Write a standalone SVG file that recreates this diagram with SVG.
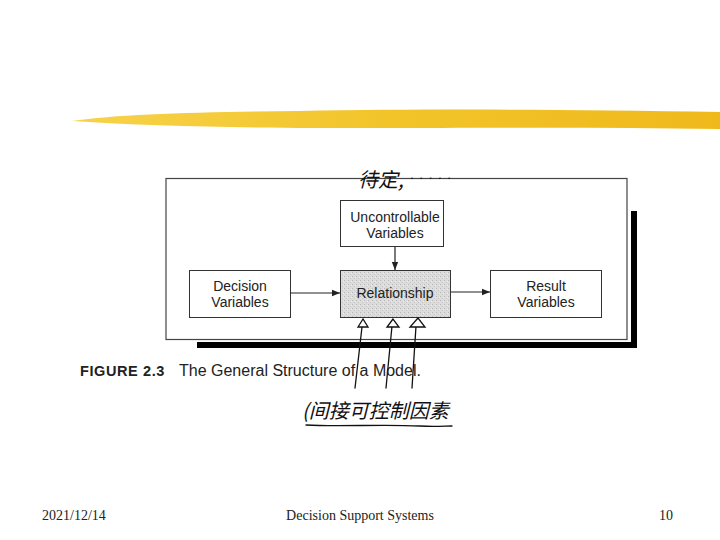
<svg xmlns="http://www.w3.org/2000/svg" width="720" height="540" viewBox="0 0 720 540">
<defs>
<linearGradient id="brush" x1="0" y1="0" x2="1" y2="0">
<stop offset="0" stop-color="#f7d24a"/>
<stop offset="0.5" stop-color="#f2c42a"/>
<stop offset="1" stop-color="#efb91c"/>
</linearGradient>
<pattern id="speckle" width="4" height="4" patternUnits="userSpaceOnUse">
<rect width="4" height="4" fill="#dcdcdc"/>
<rect x="0" y="0" width="1" height="1" fill="#b8b8b8"/>
<rect x="2" y="2" width="1" height="1" fill="#c4c4c4"/>
<rect x="3" y="1" width="1" height="1" fill="#ececec"/>
</pattern>
<marker id="arr" viewBox="0 0 10 10" refX="10" refY="5" markerWidth="8" markerHeight="8" markerUnits="userSpaceOnUse" orient="auto">
<path d="M0,1 L10,5 L0,9 Z" fill="#222"/>
</marker>
</defs>
<style>
.box{fill:#fff;stroke:#333;stroke-width:1}
.lbl{font-family:"Liberation Sans",Arial,sans-serif;font-size:14px;fill:#222;text-anchor:middle}
.con{stroke:#222;stroke-width:1.2;fill:none}
.hand{stroke:#111;stroke-width:1.3;fill:none;stroke-linecap:round}
.tri{stroke:#111;stroke-width:1.3;fill:#fff}
.cjk{font-family:"Noto Sans CJK SC",sans-serif;fill:#111;font-style:italic}
.foot{font-family:"Liberation Serif","Times New Roman",serif;font-size:14px;fill:#222}
</style>
<rect width="720" height="540" fill="#fff"/>
<path d="M72,121 C120,114 200,112 300,111 C420,109 560,109 720,112 L720,129 C600,127 480,128 380,128 C260,128 160,127 72,121 Z" fill="url(#brush)"/>
<g id="frame">
<rect x="631" y="211" width="6" height="137" fill="#000"/>
<rect x="197" y="342" width="440" height="6" fill="#000"/>
<rect x="166" y="178.5" width="461" height="161" fill="#fff" stroke="#444" stroke-width="1.2"/>
</g>
<g id="uncontrollable">
<rect class="box" x="340.5" y="200.5" width="103" height="46"/>
<text class="lbl" x="395" y="222">Uncontrollable</text>
<text class="lbl" x="395" y="238">Variables</text>
</g>
<g id="decision">
<rect class="box" x="189.5" y="270.5" width="101" height="47"/>
<text class="lbl" x="240" y="291">Decision</text>
<text class="lbl" x="240" y="307">Variables</text>
</g>
<g id="relationship">
<rect x="340.5" y="270.5" width="110" height="47" fill="url(#speckle)" stroke="#333" stroke-width="1"/>
<text class="lbl" x="395" y="298">Relationship</text>
</g>
<g id="result">
<rect class="box" x="490.5" y="270.5" width="111" height="47"/>
<text class="lbl" x="546" y="291">Result</text>
<text class="lbl" x="546" y="307">Variables</text>
</g>
<g id="connectors">
<line class="con" x1="395" y1="247" x2="395" y2="270" marker-end="url(#arr)"/>
<line class="con" x1="290" y1="293" x2="340" y2="293" marker-end="url(#arr)"/>
<line class="con" x1="451" y1="292" x2="490" y2="292" marker-end="url(#arr)"/>
<path class="hand" d="M362,327 L355,388"/>
<path class="tri" d="M363,319 L358,327 L368,327 Z"/>
<path class="hand" d="M392,326 L386,388"/>
<path class="tri" d="M393,319 L387,327 L399,327 Z"/>
<path class="hand" d="M416,326 L412,388"/>
<path class="tri" d="M418,318 L410,327 L425,327 Z"/>
</g>
<g id="caption">
<text x="80" y="376" font-family="Liberation Sans,Arial,sans-serif" font-size="14.5" font-weight="bold" fill="#222" letter-spacing="0.6">FIGURE 2.3</text>
<text x="179" y="376" font-family="Liberation Sans,Arial,sans-serif" font-size="16" fill="#222">The General Structure of a Model.</text>
</g>
<g id="notes">
<text class="cjk" x="358" y="187" font-size="20">待定,</text>
<text class="cjk" x="410" y="179" font-size="12" letter-spacing="6">.....</text>
<text class="cjk" x="302" y="418" font-size="20">(间接可控制因素</text>
<path class="hand" d="M306,425 C340,427 380,424 420,426 C435,427 445,426 452,426"/>
</g>
<text class="foot" x="42" y="520">2021/12/14</text>
<text class="foot" x="360" y="520" text-anchor="middle">Decision Support Systems</text>
<text class="foot" x="673" y="520" text-anchor="end">10</text>
</svg>
